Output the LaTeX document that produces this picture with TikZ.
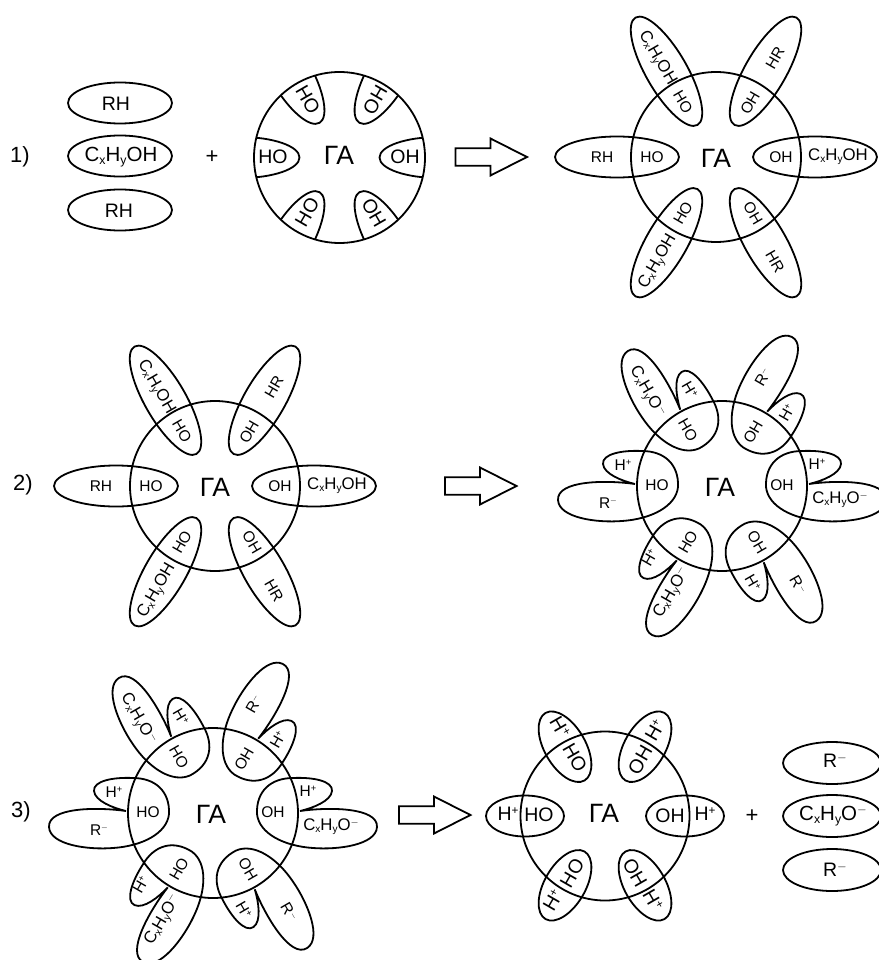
\documentclass[tikz,border=0pt]{standalone}
\usepackage{fontspec}
\setmainfont{Liberation Sans}

\newcommand{\lowt}[1]{\raisebox{-.22ex}{\scalebox{.6}{#1}}}
\newcommand{\hight}[1]{\raisebox{.62ex}{\scalebox{.6}{#1}}}
\newcommand{\alcohol}{C\lowt{x}H\lowt{y}OH}
\newcommand{\alkoxide}{C\lowt{x}H\lowt{y}O\hight{$-$}}
\newcommand{\proton}{H\hight{+}}
\newcommand{\anion}{R\hight{$-$}}

\tikzset{
	every node/.style={inner sep=0pt},
	line/.style={line width=1.8pt},
	txtS/.style={font=\fontsize{15.5}{15.5}\selectfont},
	txtC/.style={font=\fontsize{16.8}{16.8}\selectfont},
	txtM/.style={font=\fontsize{19.5}{19.5}\selectfont},
	txtD/.style={font=\fontsize{20.5}{20.5}\selectfont},
	txtL/.style={font=\fontsize{26.5}{26.5}\selectfont},
	txtN/.style={font=\fontsize{22}{22}\selectfont}
}

% loaded particle: long petals
\newcommand{\loaded}[3]{
	\begin{scope}[shift={(#2,#3)}]
		\draw[line] (0,0) circle (85);
		\foreach \ang in {0,60,...,300}
			\draw[line, rotate=\ang] (99,0) ellipse [x radius=62, y radius=20.5];
		\node[txtL] (#1c) at (0,-1) {ГА};
		\node[txtS] (#1a) at (-114,0) {RH};
		\node[txtS] (#1b) at (-64,0) {HO};
		\node[txtS] (#1d) at (65,0) {OH};
		\node[txtC] (#1e) at (122,0) {\alcohol};
		\node[txtC, rotate=-60] (#1f) at (-59,99) {\alcohol};
		\node[txtS, rotate=-60] (#1g) at (-33,55) {HO};
		\node[txtS, rotate=60] (#1h) at (59,99) {HR};
		\node[txtS, rotate=60] (#1i) at (34,54) {OH};
		\node[txtC, rotate=60] (#1j) at (-58,-105) {\alcohol};
		\node[txtS, rotate=60] (#1k) at (-33,-56) {HO};
		\node[txtS, rotate=-60] (#1l) at (37,-56) {OH};
		\node[txtS, rotate=-60] (#1m) at (59,-105) {HR};
	\end{scope}
}

% split petal, one small and one big lobe
\newcommand{\petal}{
	(44,1) .. controls (43,-22) and (58,-35) .. (80,-35)
	.. controls (100,-36) and (120,-32) .. (119,-22)
	.. controls (118,-12) and (100,-5) .. (87,-2)
	.. controls (115,-6) and (165,-6) .. (164,14)
	.. controls (163,32) and (125,37) .. (100,35)
	.. controls (70,33) and (46,20) .. (44,1)
}

\newcommand{\ionised}[3]{
	\begin{scope}[shift={(#2,#3)}]
		\draw[line] (0,0) circle (85);
		\foreach \ang in {60,120,...,300}
			\draw[line, rotate=\ang] \petal;
		\draw[line, yscale=-1] \petal;
		\node[txtL] (#1c) at (-2,-1) {ГА};
		\node[txtC, rotate=-60] (#1a) at (-75,94) {\alkoxide};
		\node[txtS, rotate=-60] (#1b) at (-32,96) {\proton};
		\node[txtS, rotate=-60] (#1d) at (-34,56) {HO};
		\node[txtS, rotate=60] (#1e) at (41,109) {\anion};
		\node[txtS, rotate=60] (#1f) at (65,73) {\proton};
		\node[txtS, rotate=60] (#1g) at (31,54) {OH};
		\node[txtS] (#1h) at (-99,21) {\proton};
		\node[txtS] (#1i) at (-114,-17) {\anion};
		\node[txtS] (#1j) at (-65,1) {HO};
		\node[txtS] (#1k) at (60,1) {OH};
		\node[txtS] (#1l) at (95,22) {\proton};
		\node[txtC] (#1m) at (118,-14) {\alkoxide};
		\node[txtS, rotate=60] (#1n) at (-34,-56) {HO};
		\node[txtS, rotate=60] (#1o) at (-72,-72) {\proton};
		\node[txtC, rotate=60] (#1p) at (-50,-107) {\alkoxide};
		\node[txtS, rotate=-60] (#1q) at (35,-56) {OH};
		\node[txtS, rotate=-60] (#1r) at (31,-97) {\proton};
		\node[txtS, rotate=-60] (#1s) at (76,-99) {\anion};
	\end{scope}
}

\begin{document}
\begin{tikzpicture}[x=1pt, y=1pt]
	\useasboundingbox (0,0) rectangle (878,-960);
	\fill[white] (0,0) rectangle (878,-960);

	% Row 1:
	\node[txtN] (num1) at (20,-157) {1)};
	\draw[line] (120,-103) ellipse [x radius=52, y radius=20.5];
	\draw[line] (120,-156) ellipse [x radius=52, y radius=20.5];
	\draw[line] (120,-210) ellipse [x radius=52, y radius=20.5];
	\node[txtM] (rh1) at (116,-104) {RH};
	\node[txtD] (roh1) at (121,-157) {\alcohol};
	\node[txtM] (rh2) at (119,-211) {RH};
	\node[txtN] (plus1) at (212,-157) {+};
	\draw[line] (339.5,-157.5) circle (85.5);
	\begin{scope}
		\clip (339.5,-157.5) circle (85.5);
		\foreach \ang in {0,60,...,300}
			\draw[line, shift={(339.5,-157.5)}, rotate=\ang] (99,0) ellipse [x radius=59, y radius=20.5];
	\end{scope}
	\node[txtL] (ga1) at (339,-155) {ГА};
	\node[txtM] (ho1) at (273,-157) {HO};
	\node[txtM] (oh1) at (405,-157) {OH};
	\node[txtM, rotate=-60] (ho2) at (308,-100) {HO};
	\node[txtM, rotate=60] (oh2) at (375,-100) {OH};
	\node[txtM, rotate=60] (ho3) at (307,-212) {HO};
	\node[txtM, rotate=-60] (oh3) at (374,-213) {OH};
	\loaded{pa}{716}{-157}

	% Block arrows:
	\foreach \ax/\ay in {455.5/-157, 445/-486, 399/-815}
		\draw[line, miter limit=10] (\ax,\ay+8.7) -- ++(35,0) -- ++(0,9.8) -- ++(36.5,-18.5)
			-- ++(-36.5,-18.5) -- ++(0,9.8) -- ++(-35,0) -- cycle;

	% Row 2:
	\node[txtN] (num2) at (23,-485) {2)};
	\loaded{pb}{215}{-486}
	\ionised{pc}{722}{-486}

	% Row 3:
	\node[txtN] (num3) at (21,-812) {3)};
	\ionised{pd}{213}{-813}
	\draw[line] (605,-816) circle (84.5);
	\foreach \ang in {0,60,...,300}
		\draw[line, shift={(605,-816)}, rotate=\ang] (80,0) ellipse [x radius=39, y radius=20.5];
	\node[txtL] (ga2) at (604,-813) {ГА};
	\node[txtM] (oh4) at (670,-816) {OH};
	\node[txtM] (hp1) at (705,-814) {\proton};
	\node[txtM] (ho4) at (539,-815) {HO};
	\node[txtM] (hp2) at (508,-814) {\proton};
	\node[txtM, rotate=-60] (hp3) at (560,-727) {\proton};
	\node[txtM, rotate=-60] (ho5) at (575,-758) {HO};
	\node[txtM, rotate=60] (oh5) at (640,-760) {OH};
	\node[txtM, rotate=60] (hp4) at (655,-730) {\proton};
	\node[txtM, rotate=60] (ho6) at (572,-873) {HO};
	\node[txtM, rotate=60] (hp5) at (553,-900) {\proton};
	\node[txtM, rotate=-60] (oh6) at (635,-873) {OH};
	\node[txtM, rotate=-60] (hp6) at (653,-900) {\proton};
	\node[txtN] (plus2) at (752,-816) {+};
	\draw[line] (832,-763) ellipse [x radius=49, y radius=21];
	\draw[line] (832,-816) ellipse [x radius=49, y radius=21];
	\draw[line] (832,-870) ellipse [x radius=49, y radius=21];
	\node[txtM] (an1) at (835,-761) {\anion};
	\node[txtD] (alk1) at (833,-816) {\alkoxide};
	\node[txtM] (an2) at (835,-870) {\anion};
\end{tikzpicture}
\end{document}
